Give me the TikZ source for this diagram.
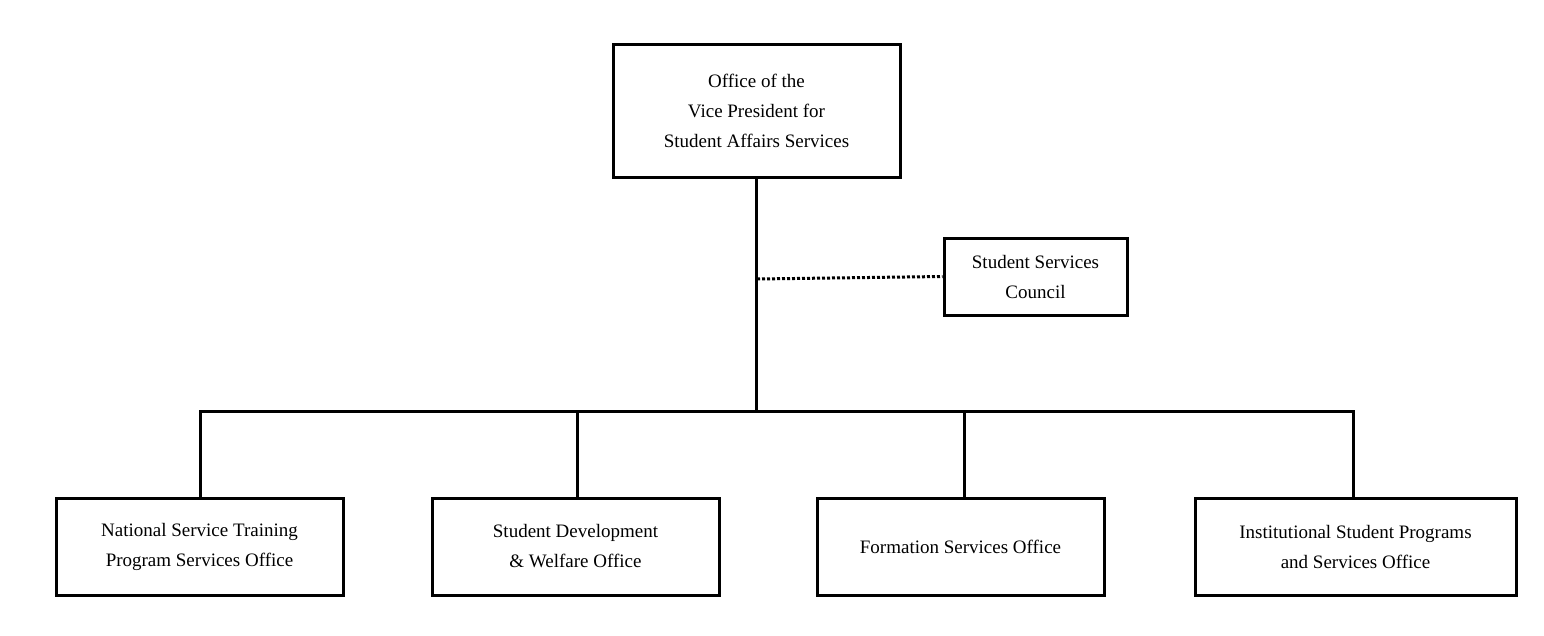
\documentclass[tikz,border=0pt]{standalone}
\usepackage{fontspec}
\setmainfont{Liberation Serif}
\begin{document}
\begin{tikzpicture}[x=1pt,y=-1pt,
  box/.style={draw,line width=3pt,minimum width=#1,minimum height=97pt,align=center,font=\fontsize{19}{30}\selectfont,inner sep=0pt},
  ln/.style={line width=3pt}]
\useasboundingbox (0,0) rectangle (1544,635);
\node[box=287pt,minimum height=133pt] (top) at (756.5,110.5) {Office of the\\Vice President for\\Student Affairs Services};
\node[box=183pt,minimum height=77pt] (cou) at (1035.5,276.5) {Student Services\\Council};
\node[box=287pt] (b1) at (199.5,546.5) {National Service Training\\Program Services Office};
\node[box=287pt] (b2) at (575.5,546.5) {Student Development\\\& Welfare Office};
\node[box=287pt] (b3) at (960.5,546.5) {Formation Services Office};
\node[box=321pt] (b4) at (1355.5,546.5) {Institutional Student Programs\\and Services Office};
\coordinate (j) at (756.5,411);
\coordinate (d) at (757,279);
\draw[ln] (top.south) -- (j);
\draw[ln] (b1.north -| 200,0) |- (j) -| (b4.north -| 1353,0);
\draw[ln] (b2.north -| 577,0) -- (577,411);
\draw[ln] (b3.north -| 964,0) -- (964,411);
\draw[line width=3pt,dotted] (d) -- (cou.west);
\end{tikzpicture}
\end{document}
